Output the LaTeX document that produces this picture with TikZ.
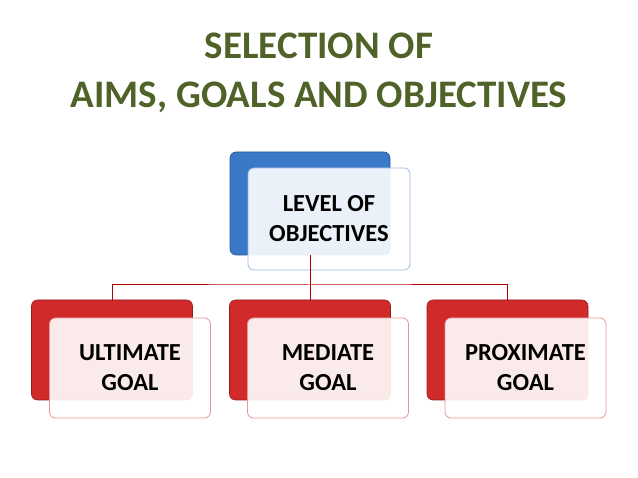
\documentclass[tikz,border=0pt]{standalone}
\usepackage{fontspec}
\setmainfont{Carlito}
\begin{document}
\begin{tikzpicture}[x=1pt,y=-1pt,
  back/.style={draw=#1!70!black,fill=#1,rounded corners=6pt,line width=0.6pt},
  front/.style={draw=#1,fill=white,fill opacity=0.9,rounded corners=6pt,line width=0.8pt,text opacity=1,font=\bfseries\fontsize{24.5}{30}\selectfont,align=center},
  conn/.style={draw=red!70!black,line width=1pt}]
\useasboundingbox (0,0) rectangle (638,478);
\definecolor{tgreen}{HTML}{4F6228}
\definecolor{bblue}{HTML}{3A78C8}
\definecolor{rred}{HTML}{D02A2A}
\node[font=\bfseries\fontsize{39}{49}\selectfont,text=tgreen,align=center] (title) at (319,73) {SELECTION OF\\AIMS, GOALS AND OBJECTIVES};
% top
\node[back=bblue,minimum width=160pt,minimum height=103pt] (tb) at (310,203.5) {};
\node[front=bblue!50,minimum width=162pt,minimum height=102pt] (tf) at (329,219) {LEVEL OF\\OBJECTIVES};
% bottom
\foreach \n/\x/\t in {l/112/ULTIMATE\\GOAL, m/310/MEDIATE\\GOAL, r/507.5/PROXIMATE\\GOAL}{
  \node[back=rred,minimum width=161pt,minimum height=100pt] (\n b) at (\x,350) {};
  \node[front=rred!50,minimum width=161pt,minimum height=100pt] (\n f) at (\x+18,368) {\t};
}
\coordinate (j) at (310,285);
\draw[conn] (tb.south) -- (j);
\draw[conn] (lb.north) |- (j) -| (rb.north);
\draw[conn] (j) -- (mb.north);
\end{tikzpicture}
\end{document}
